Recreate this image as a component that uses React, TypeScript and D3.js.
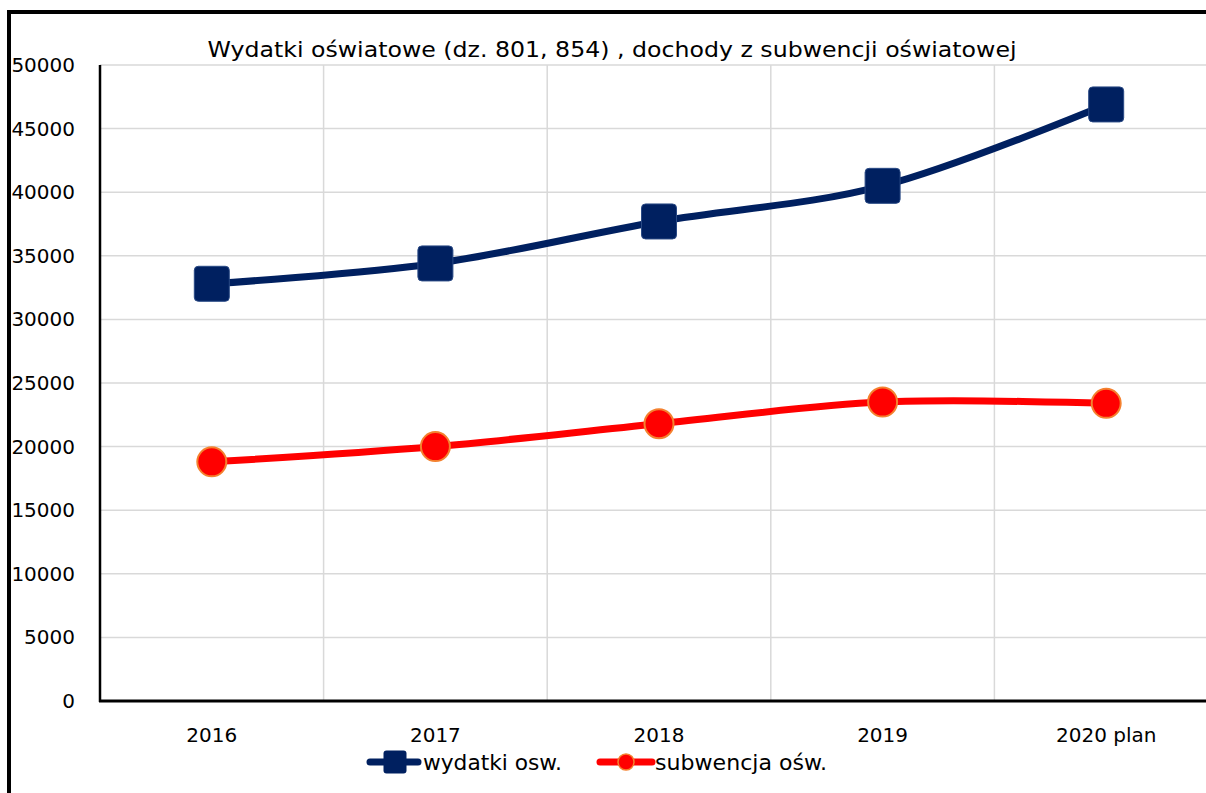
import React from "react";
import * as d3 from "d3";

const categories = ["2016", "2017", "2018", "2019", "2020 plan"];
const wydatki = [32800, 34400, 37700, 40500, 46900];
const subwencja = [18800, 20000, 21800, 23500, 23400];
const yTicks = [0, 5000, 10000, 15000, 20000, 25000, 30000, 35000, 40000, 45000, 50000];
const title = "Wydatki oświatowe (dz. 801, 854) , dochody z subwencji oświatowej";
const seriesNames = ["wydatki osw.", "subwencja ośw."];

const W = 1206;
const H = 793;
const NAVY = "#002060";
const RED = "#ff0000";
const FONT = "'DejaVu Sans', Verdana, sans-serif";

export default function App() {
  const x = d3.scaleBand<string>().domain(categories).range([100, 1218]).padding(0);
  const y = d3.scaleLinear().domain([0, 50000]).range([701, 65]);
  const cx = (c: string) => (x(c) as number) + x.bandwidth() / 2;
  const line = d3
    .line<number>()
    .x((_, i) => cx(categories[i]))
    .y((d) => y(d))
    .curve(d3.curveCatmullRom.alpha(0));

  return (
    <svg
      width={W}
      height={H}
      style={{ position: "absolute", left: 0, top: 0, display: "block", background: "#fff" }}
      fontFamily={FONT}
    >
      <rect x={0} y={0} width={W} height={H} fill="#fff" />
      {/* frame */}
      <line x1={9} y1={12} x2={W + 5} y2={12} stroke="#000" strokeWidth={4} />
      <line x1={9} y1={10} x2={9} y2={H + 5} stroke="#000" strokeWidth={4} />

      {/* horizontal gridlines */}
      {yTicks.map((t) => (
        <line key={"h" + t} x1={100} x2={1218} y1={y(t)} y2={y(t)} stroke="#d9d9d9" strokeWidth={1.5} />
      ))}
      {/* vertical gridlines */}
      {categories.slice(1).map((c) => (
        <line key={"v" + c} x1={x(c)} x2={x(c)} y1={y(50000)} y2={y(0)} stroke="#d9d9d9" strokeWidth={1.5} />
      ))}
      {/* axes */}
      <line x1={100} x2={100} y1={y(50000)} y2={y(0) + 1} stroke="#000" strokeWidth={2.5} />
      <line x1={99} x2={1218} y1={y(0)} y2={y(0)} stroke="#000" strokeWidth={3} />

      {/* y tick labels */}
      {yTicks.map((t) => (
        <text key={"yt" + t} x={75} y={y(t) + 7} textAnchor="end" fontSize={20} fill="#000">
          {t}
        </text>
      ))}
      {/* x tick labels */}
      {categories.map((c) => (
        <text key={"xt" + c} x={cx(c)} y={742} textAnchor="middle" fontSize={20} fill="#000">
          {c}
        </text>
      ))}

      {/* title */}
      <text x={612} y={57} textAnchor="middle" fontSize={22} fill="#000" textLength={809} lengthAdjust="spacingAndGlyphs">
        {title}
      </text>

      {/* series lines */}
      <path d={line(wydatki) || ""} fill="none" stroke={NAVY} strokeWidth={7} />
      <path d={line(subwencja) || ""} fill="none" stroke={RED} strokeWidth={7} />

      {/* markers */}
      {wydatki.map((v, i) => (
        <rect
          key={"sq" + i}
          x={cx(categories[i]) - 17.5}
          y={y(v) - 17.5}
          width={35}
          height={35}
          rx={4}
          fill={NAVY}
          stroke="#2a4a85"
          strokeWidth={1}
        />
      ))}
      {subwencja.map((v, i) => (
        <circle key={"c" + i} cx={cx(categories[i])} cy={y(v)} r={14.5} fill={RED} stroke="#f4812f" strokeWidth={2} />
      ))}

      {/* legend */}
      <line x1={370} x2={418} y1={762} y2={762} stroke={NAVY} strokeWidth={7} strokeLinecap="round" />
      <rect x={383.5} y={750.5} width={23} height={23} rx={3} fill={NAVY} />
      <text x={423} y={770} fontSize={22} fill="#000" textLength={139} lengthAdjust="spacingAndGlyphs">
        {seriesNames[0]}
      </text>
      <line x1={600} x2={652} y1={762} y2={762} stroke={RED} strokeWidth={7} strokeLinecap="round" />
      <circle cx={626} cy={762} r={8} fill={RED} stroke="#f4812f" strokeWidth={1.5} />
      <text x={655} y={770} fontSize={22} fill="#000" textLength={172} lengthAdjust="spacingAndGlyphs">
        {seriesNames[1]}
      </text>
    </svg>
  );
}
